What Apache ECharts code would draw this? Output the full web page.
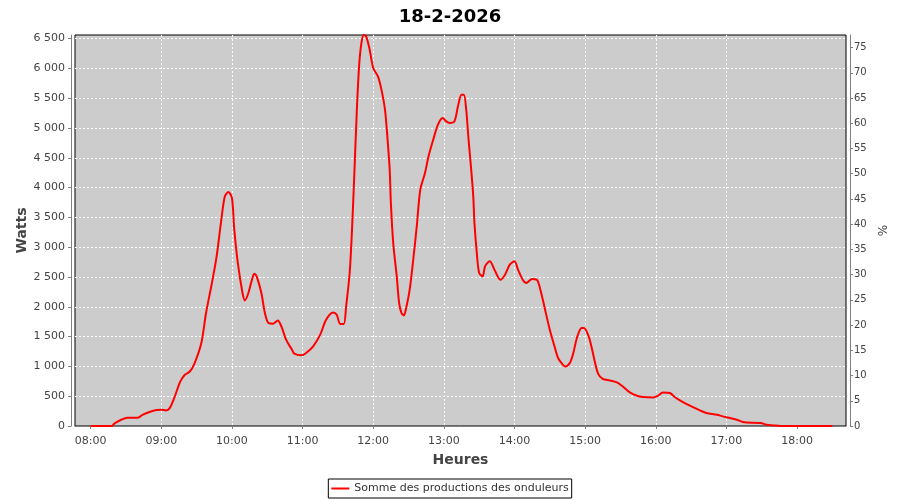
<!DOCTYPE html>
<html>
<head>
<meta charset="utf-8">
<script src="https://cdn.jsdelivr.net/npm/echarts@6/dist/echarts.min.js"></script>
<style>html,body{margin:0;padding:0;background:#fff}#c{width:900px;height:500px}</style>
</head>
<body>
<div id="c"></div>
<script>
const title = "18-2-2026";
const seriesName = "Somme des productions des onduleurs";
const hourTicks = ["08:00","09:00","10:00","11:00","12:00","13:00","14:00","15:00","16:00","17:00","18:00"];
const times = ["08:00","08:18","08:20","08:26","08:31","08:40","08:44","08:50","08:56","09:00","09:04","09:07","09:11","09:16","09:20","09:24","09:28","09:34","09:38","09:43","09:47","09:51","09:54","09:57","10:00","10:02","10:05","10:09","10:11","10:14","10:17","10:19","10:21","10:25","10:28","10:31","10:35","10:39","10:42","10:46","10:51","10:53","10:59","11:03","11:09","11:15","11:20","11:26","11:29","11:32","11:35","11:37","11:40","11:42","11:44","11:46","11:48","11:50","11:52","11:54","11:57","12:00","12:04","12:07","12:10","12:12","12:14","12:15","12:17","12:20","12:22","12:24","12:26","12:28","12:31","12:34","12:37","12:40","12:44","12:47","12:51","12:55","12:59","13:02","13:05","13:09","13:12","13:15","13:17","13:19","13:21","13:23","13:25","13:26","13:28","13:30","13:33","13:35","13:39","13:43","13:48","13:52","13:56","14:00","14:03","14:07","14:10","14:15","14:19","14:22","14:26","14:30","14:34","14:37","14:41","14:43","14:47","14:50","14:53","14:57","14:59","15:03","15:06","15:08","15:11","15:15","15:21","15:27","15:32","15:38","15:44","15:49","15:58","16:02","16:06","16:12","16:16","16:22","16:29","16:38","16:43","16:52","16:57","17:03","17:09","17:14","17:17","17:29","17:34","17:40","17:46","18:30"];
const watts = [0,0,40,105,140,140,185,235,268,273,262,295,470,740,860,910,1040,1393,1896,2400,2846,3462,3853,3927,3826,3294,2735,2232,2107,2232,2455,2556,2510,2232,1896,1728,1717,1772,1671,1448,1280,1213,1185,1225,1336,1532,1784,1906,1868,1712,1712,2007,2567,3294,4245,5252,6034,6427,6560,6537,6314,6007,5866,5643,5308,4860,4301,3742,3071,2510,2064,1896,1856,1980,2287,2790,3349,3965,4245,4524,4804,5056,5168,5111,5084,5111,5363,5559,5559,5308,4804,4356,3853,3406,2903,2567,2510,2678,2762,2623,2455,2539,2707,2762,2623,2455,2400,2467,2455,2287,1951,1616,1336,1141,1029,1000,1057,1225,1477,1644,1644,1503,1280,1100,880,789,765,732,664,564,508,487,480,508,564,554,487,413,341,257,218,190,161,134,106,67,58,50,22,10,0,0];
const toMin = s => { const p = s.split(":"); return (+p[0]) * 60 + (+p[1]); };
const pad = n => (n < 10 ? "0" : "") + n;
const fmtTime = v => pad(Math.floor(v / 60)) + ":" + pad(Math.round(v % 60));
const fmtWatts = v => { const s = String(Math.round(v)); return s.length > 3 ? s.slice(0, s.length - 3) + " " + s.slice(-3) : s; };
const data = times.map((t, i) => [toMin(t), watts[i]]);
const tickVals = hourTicks.map(toMin);

const chart = echarts.init(document.getElementById('c'), null, {renderer: 'canvas'});
const font = "'DejaVu Sans', sans-serif";
const split = {show: true, showMinLine: false, showMaxLine: false, lineStyle: {color: '#ffffff', type: [2, 2], width: 1}};
chart.setOption({
  animation: false,
  backgroundColor: '#ffffff',
  title: {
    text: title, left: 'center', top: 3,
    textStyle: {fontFamily: font, fontWeight: 'bold', fontSize: 18, color: '#000'}
  },
  legend: {
    bottom: 2, left: 'center',
    data: [seriesName],
    borderColor: '#000', borderWidth: 1, borderRadius: 0,
    padding: [4, 3, 4, 3],
    itemWidth: 18, itemHeight: 2, icon: 'rect', itemGap: 4,
    textStyle: {fontFamily: font, fontSize: 11, color: '#333'}
  },
  grid: {
    left: 75, right: 54, top: 35, bottom: 74,
    show: true, backgroundColor: '#cccccc', borderColor: '#000', borderWidth: 1
  },
  xAxis: {
    type: 'value', min: 466.7, max: 1121.6, offset: 4,
    name: 'Heures', nameLocation: 'middle', nameGap: 23,
    nameTextStyle: {fontFamily: font, fontSize: 14, fontWeight: 'bold', color: '#444'},
    axisLine: {show: true, lineStyle: {color: '#808080'}},
    axisTick: {show: true, length: 3, customValues: tickVals, lineStyle: {color: '#808080'}},
    axisLabel: {customValues: tickVals, formatter: v => fmtTime(v), fontFamily: font, fontSize: 11, color: '#444', margin: 6},
    splitLine: split
  },
  yAxis: [{
    type: 'value', min: 0, max: 6560, interval: 500, offset: 4, position: 'left',
    name: 'Watts', nameLocation: 'middle', nameGap: 42, nameRotate: 90, nameMoveOverlap: false,
    nameTextStyle: {fontFamily: font, fontSize: 14, fontWeight: 'bold', color: '#444'},
    axisLine: {show: true, lineStyle: {color: '#808080'}},
    axisTick: {show: true, length: 3, lineStyle: {color: '#808080'}},
    axisLabel: {showMaxLabel: false, formatter: v => fmtWatts(v), fontFamily: font, fontSize: 11, color: '#444', margin: 6},
    splitLine: split
  }, {
    type: 'value', min: 0, max: 77.5, interval: 5, offset: 4, position: 'right',
    name: '%', nameLocation: 'middle', nameGap: 26, nameRotate: 90,
    nameTextStyle: {fontFamily: font, fontSize: 12, color: '#444'},
    axisLine: {show: true, lineStyle: {color: '#808080'}},
    axisTick: {show: true, length: 3, lineStyle: {color: '#808080'}},
    axisLabel: {showMaxLabel: false, fontFamily: font, fontSize: 10, color: '#444', margin: 4},
    splitLine: {show: false}
  }],
  series: [{
    name: seriesName, type: 'line', yAxisIndex: 0,
    data: data, showSymbol: false, smooth: 0.3,
    lineStyle: {color: '#ff0000', width: 2},
    itemStyle: {color: '#ff0000'}
  }]
});
</script>
</body>
</html>
